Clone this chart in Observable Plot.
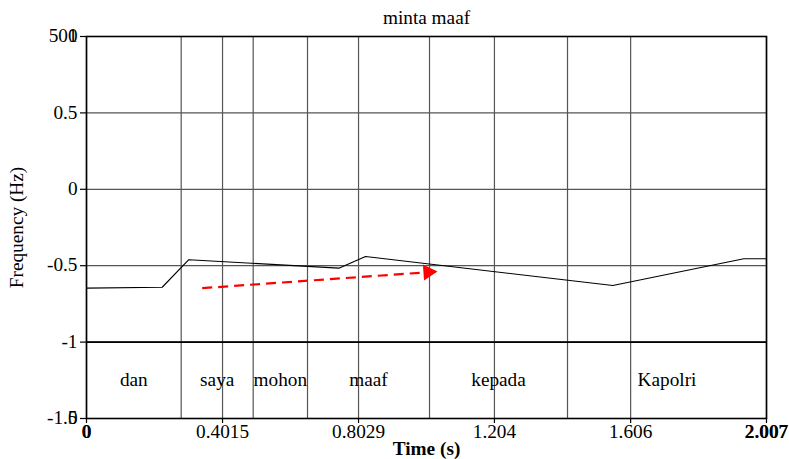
<!DOCTYPE html>
<html>
<head>
<meta charset="utf-8">
<script src="https://cdn.jsdelivr.net/npm/d3@7"></script>
<script src="https://cdn.jsdelivr.net/npm/@observablehq/plot@0.6"></script>
<style>
  html, body { margin: 0; padding: 0; background: white; }
  #chart svg, #chart svg text { font-family: "Liberation Serif", "Times New Roman", serif !important; }
</style>
</head>
<body>
<div id="chart"></div>
<script>
const title = "minta maaf";
const xLabel = "Time (s)";
const yLabel = "Frequency (Hz)";
const xTickLabels = ["0", "0.4015", "0.8029", "1.204", "1.606", "2.007"];
const xTicks = xTickLabels.map(Number);
const xEndTicks = [0, 2.007];
const yTicks = [1, 0.5, 0, -0.5, -1, -1.5];
const yGrid = [0.5, 0, -0.5, -1];
const yExtraTicks = [1, -1.5];
const yExtraLabels = ["500", "0"];
const pitchTime = [0, 0.2234, 0.3019, 0.7447, 0.8235, 1.5534, 1.940, 2.007];
const pitchHz = [-0.647, -0.641, -0.461, -0.516, -0.440, -0.630, -0.455, -0.455];
const wordBounds = [0, 0.2795, 0.4920, 0.6523, 1.0124, 1.4197, 2.007];
const words = ["dan", "saya", "mohon", "maaf", "kepada", "Kapolri"];
const tierY = -1.25;
const arrowStart = [0.3415, -0.647];
const arrowEnd = [1.0369, -0.538];

const pitch = pitchTime.map((t, i) => ({t, f: pitchHz[i]}));
const wordData = words.map((w, i) => ({w, t: (wordBounds[i] + wordBounds[i + 1]) / 2, f: tierY}));
const innerBounds = wordBounds.slice(1, -1);
const arrow = [{x1: arrowStart[0], y1: arrowStart[1], x2: arrowEnd[0], y2: arrowEnd[1]}];

const FS = 18;
const chart = Plot.plot({
  width: 789,
  height: 459,
  marginLeft: 86,
  marginRight: 23,
  marginTop: 36,
  marginBottom: 41,
  style: {fontFamily: "Liberation Serif", fontSize: FS + "px", background: "white", color: "black"},
  x: {domain: [0, 2.007]},
  y: {domain: [-1.5, 1]},
  marks: [
    Plot.gridY(yGrid, {stroke: "#555", strokeOpacity: 1, strokeWidth: 1.2}),
    Plot.gridX(xTicks, {stroke: "#555", strokeOpacity: 1, strokeWidth: 1.2}),
    Plot.ruleX(innerBounds, {stroke: "#555", strokeWidth: 1.2}),
    Plot.ruleY([-1], {stroke: "black", strokeWidth: 1.6}),
    Plot.frame({stroke: "black", strokeWidth: 1.6}),
    Plot.line(pitch, {x: "t", y: "f", stroke: "black", strokeWidth: 1.1}),
    Plot.link(arrow, {x1: "x1", y1: "y1", x2: "x2", y2: "y2", stroke: "red", strokeWidth: 2.2, strokeDasharray: "10,6"}),
    Plot.dot([arrow[0]], {x: "x2", y: "y2", symbol: "triangle", r: 6, fill: "red", stroke: "none", rotate: 86, dx: -9.7, dy: 0.7}),
    Plot.text(wordData, {x: "t", y: "f", text: "w", fontSize: FS}),
    Plot.axisY(yTicks, {tickFormat: d => String(d), tickSize: 6, tickPadding: 3, label: null, strokeWidth: 1.2}),
    Plot.axisY(yExtraTicks, {tickFormat: d => yExtraLabels[yExtraTicks.indexOf(d)], tickSize: 6, tickPadding: 3, label: null}),
    Plot.axisX(xTicks, {tickFormat: d => xTickLabels[xTicks.indexOf(d)], tickSize: 5, tickPadding: 2, label: null, strokeWidth: 1.2}),
    Plot.axisX(xEndTicks, {tickFormat: d => xTickLabels[xTicks.indexOf(d)], tickSize: 5, tickPadding: 2, label: null, fontWeight: "bold"}),
    Plot.text([title], {frameAnchor: "top", dy: -18, lineAnchor: "middle", textAnchor: "middle", fontSize: FS}),
    Plot.text([xLabel], {frameAnchor: "bottom", dy: 31, lineAnchor: "middle", textAnchor: "middle", fontWeight: "bold", fontSize: FS}),
    Plot.text([yLabel], {frameAnchor: "left", dx: -69, rotate: -90, lineAnchor: "middle", textAnchor: "middle", fontSize: FS})
  ]
});
document.getElementById("chart").appendChild(chart);
chart.querySelectorAll("text").forEach(t => {
  const L = t.getComputedTextLength();
  if (L > 0) {
    t.setAttribute("textLength", (L * 1.07).toFixed(2));
    t.setAttribute("lengthAdjust", "spacingAndGlyphs");
  }
});
</script>
</body>
</html>
